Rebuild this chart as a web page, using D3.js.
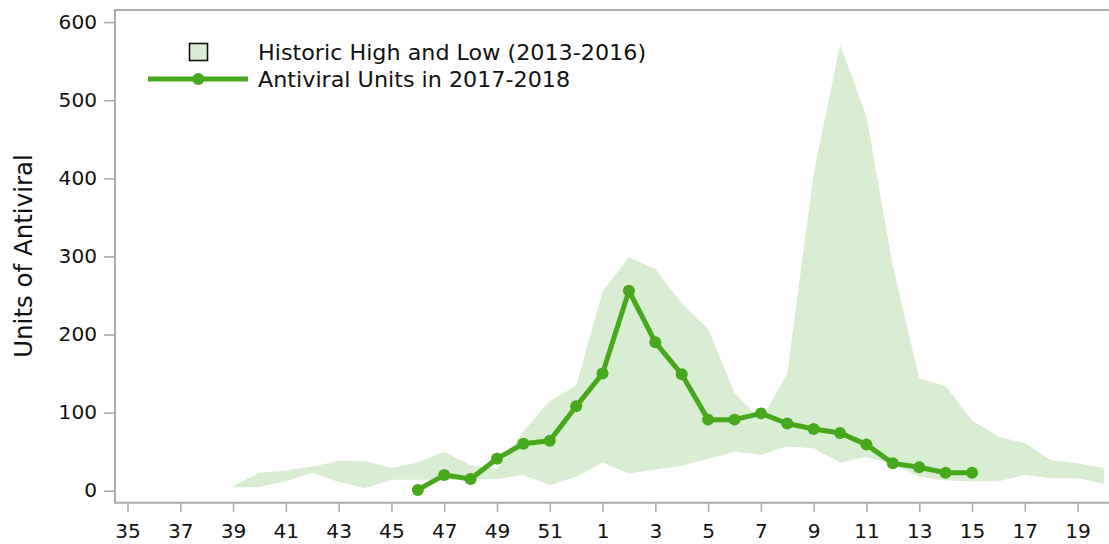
<!DOCTYPE html>
<html>
<head>
<meta charset="utf-8">
<script src="https://cdn.jsdelivr.net/npm/d3@7"></script>
<style>
  html, body { margin: 0; padding: 0; background: #fff; overflow: hidden; }
  svg { display: block; }
  text { font-family: "DejaVu Sans", sans-serif; }
</style>
</head>
<body>
<svg id="chart" width="1109" height="544"></svg>
<script>
// ---- data ----
const weeks = ["35","36","37","38","39","40","41","42","43","44","45","46","47","48","49","50","51","52",
               "1","2","3","4","5","6","7","8","9","10","11","12","13","14","15","16","17","18","19","20"];
const tickWeeks = ["35","37","39","41","43","45","47","49","51","1","3","5","7","9","11","13","15","17","19"];
const yTicks = [0, 100, 200, 300, 400, 500, 600];

const areaWeeks = ["39","40","41","42","43","44","45","46","47","48","49","50","51","52",
                   "1","2","3","4","5","6","7","8","9","10","11","12","13","14","15","16","17","18","19","20"];
const historicHigh = [6,23,26,31,38,38,29,36,50,33,28,76,115,134,
                      255,299,284,240,207,125,90,150,406,571,479,287,144,134,90,69,61,39,35,29];
const historicLow  = [4,5,12,23,11,3,14,14,14,15,15,20,7,18,
                      36,22,27,32,41,50,46,57,54,36,43,34,18,13,12,12,20,16,16,9];

const lineWeeks = ["46","47","48","49","50","51","52","1","2","3","4","5","6","7","8","9","10","11","12","13","14","15"];
const antiviral = [1,20,15,41,60,64,108,150,256,190,149,91,91,99,86,79,74,59,35,30,23,23];

const legendLabels = ["Historic High and Low (2013-2016)", "Antiviral Units in 2017-2018"];
const yTitle = "Units of Antiviral";

// ---- style ----
const GREEN = "#47a81d";
const FILL = "#d9edd2";
const AXIS = "#a8acb0";
const TXT = "#111";
const S = 1.06; // horizontal text stretch

const svg = d3.select("#chart");

const x = d3.scalePoint().domain(weeks).range([127.5, 1104]);
const y = d3.scaleLinear().domain([0, 600]).range([490.7, 22.1]);

const plotLeft = 115, plotTop = 10, plotBottom = 502.7;

// area
const areaData = areaWeeks.map((w, i) => ({w, hi: historicHigh[i], lo: historicLow[i]}));
svg.append("path")
  .datum(areaData)
  .attr("fill", FILL)
  .attr("d", d3.area().x(d => x(d.w)).y0(d => y(d.lo)).y1(d => y(d.hi)));

// frame
svg.append("path")
  .attr("d", `M1120,${plotTop}H${plotLeft}V${plotBottom}H1120`)
  .attr("fill", "none").attr("stroke", AXIS).attr("stroke-width", 2);

// y axis
const gy = svg.append("g").attr("transform", `translate(${plotLeft},0)`)
  .call(d3.axisLeft(y).tickValues(yTicks).tickSize(11).tickPadding(7));
gy.select(".domain").remove();
gy.selectAll(".tick line").attr("stroke", AXIS).attr("stroke-width", 1.6);
gy.selectAll(".tick text")
  .attr("fill", TXT).attr("font-size", 19).attr("font-family", "DejaVu Sans")
  .attr("x", 0).attr("transform", `translate(-18,0) scale(${S},1)`);

// x axis
const gx = svg.append("g").attr("transform", `translate(0,${plotBottom})`)
  .call(d3.axisBottom(x).tickValues(tickWeeks).tickSize(9).tickPadding(12.5));
gx.select(".domain").remove();
gx.selectAll(".tick line").attr("stroke", AXIS).attr("stroke-width", 1.6);
gx.selectAll(".tick text")
  .attr("fill", TXT).attr("font-size", 19).attr("font-family", "DejaVu Sans")
  .attr("transform", `scale(${S},1)`);

// y title
svg.append("text")
  .attr("transform", `translate(31.5,256) rotate(-90)`)
  .attr("text-anchor", "middle")
  .attr("font-size", 24.5)
  .attr("fill", TXT)
  .text(yTitle);

// line
const lineData = lineWeeks.map((w, i) => ({w, v: antiviral[i]}));
svg.append("path")
  .datum(lineData)
  .attr("fill", "none")
  .attr("stroke", GREEN)
  .attr("stroke-width", 5)
  .attr("stroke-linejoin", "round")
  .attr("d", d3.line().x(d => x(d.w)).y(d => y(d.v)));
svg.append("g").selectAll("circle")
  .data(lineData).join("circle")
  .attr("cx", d => x(d.w)).attr("cy", d => y(d.v))
  .attr("r", 6).attr("fill", GREEN);

// legend
const lg = svg.append("g");
lg.append("rect").attr("x", 189.5).attr("y", 43.5).attr("width", 18).attr("height", 17)
  .attr("fill", FILL).attr("stroke", "#111").attr("stroke-width", 1.6);
lg.append("line").attr("x1", 148).attr("x2", 248).attr("y1", 79).attr("y2", 79)
  .attr("stroke", GREEN).attr("stroke-width", 5);
lg.append("circle").attr("cx", 198.3).attr("cy", 79).attr("r", 6).attr("fill", GREEN);
lg.selectAll("text.leg").data(legendLabels).join("text")
  .attr("class", "leg")
  .attr("transform", (d, i) => `translate(258,${i === 0 ? 60 : 87}) scale(${S},1)`)
  .attr("font-size", 21)
  .attr("fill", TXT)
  .text(d => d);
</script>
</body>
</html>
